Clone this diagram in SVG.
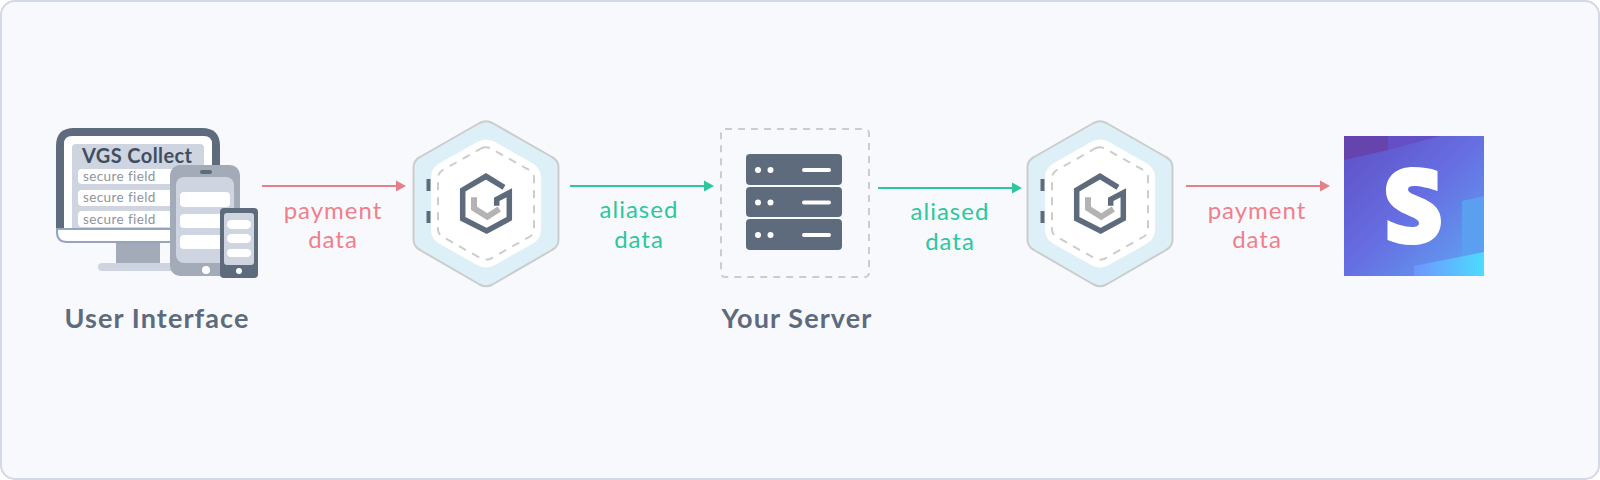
<svg xmlns="http://www.w3.org/2000/svg" width="1600" height="480" viewBox="0 0 1600 480">
<style>
text{font-family:"Lato","Liberation Sans",sans-serif}
.pay{fill:#f07f8c;font-size:24px;text-anchor:middle;letter-spacing:1px}
.ali{fill:#2cc79f;font-size:24px;text-anchor:middle;letter-spacing:1px}
.title{fill:#5d6b7c;font-size:27px;font-weight:700;text-anchor:middle;letter-spacing:1.1px}
.sf{fill:#8d949e;font-size:13.5px;letter-spacing:.4px}
.fw{fill:#fff}
.line-r{stroke:#e5808b;stroke-width:2;fill:none}
.line-g{stroke:#2cc79f;stroke-width:2;fill:none}
.slate{fill:#5d6b7c}
</style>
<defs>
<g id="vault">
<path d="M-6.500-80.500Q0-84 6.500-80.500L66-46.500Q72.500-43 72.500-36V36Q72.500 43 66 46.500L6.500 81Q0 84.500-6.500 81L-66 46.500Q-72.500 43-72.500 36V-36Q-72.500-43-66-46.500Z" fill="#ddeff7" stroke="#cbcdcd" stroke-width="2"/>
<path d="M-8-62Q0-66 8-62L47-40Q55-35 55-26V26Q55 35 47 40L8 62Q0 66-8 62L-47 40Q-55 35-55 26V-26Q-55-35-47-40Z" fill="#fff"/>
<path d="M-4-55.500Q0-57 4-55.500L44-33Q48-30 48-26V26Q48 30 44 33L4 55.500Q0 57-4 55.500L-44 33Q-48 30-48 26V-26Q-48-30-44-33Z" fill="none" stroke="#cbcdcd" stroke-width="2" stroke-dasharray="8 7"/>
<rect x="-59.500" y="-24.500" width="4" height="12" class="slate"/>
<rect x="-59.500" y="7.500" width="4" height="12" class="slate"/>
<path d="M-12-6.200V4.800L1.300 13.200 13.300 5.500" fill="none" stroke="#b3b3b3" stroke-width="6"/>
<path d="M18-16.200 0-27.200-23.300-13.500V15.200L.7 27.500 23.300 15.200V-10.800L10.700-4.200V2.200" fill="none" stroke="#5d6b7c" stroke-width="5.500"/>
</g>
<linearGradient id="st" x1="0" y1="0" x2="1" y2="1"><stop offset="0" stop-color="#5f4fc4"/><stop offset=".5" stop-color="#666fe2"/><stop offset="1" stop-color="#5fa8f4"/></linearGradient>
<linearGradient id="st2" x1="0" y1="0" x2="1" y2="0"><stop offset="0" stop-color="#6f94ff"/><stop offset="1" stop-color="#4cdcff"/></linearGradient>
</defs>
<rect x="1" y="1" width="1598" height="478" rx="14" fill="#f8f9fd" stroke="#d2d8e6" stroke-width="2"/>
<g id="connectors">
<path d="M262 186H397" class="line-r"/><path d="M406 186l-10-5.500v11z" fill="#e5808b"/>
<path d="M570 186H705" class="line-g"/><path d="M714 186l-10-5.500v11z" fill="#2cc79f"/>
<path d="M878 188H1013" class="line-g"/><path d="M1022 188l-10-5.500v11z" fill="#2cc79f"/>
<path d="M1186 186H1321" class="line-r"/><path d="M1330 186l-10-5.500v11z" fill="#e5808b"/>
</g>
<g id="label-1"><text class="pay" x="333" y="219">payment</text><text class="pay" x="333" y="248">data</text></g>
<g id="label-2"><text class="ali" x="639" y="218">aliased</text><text class="ali" x="639" y="248">data</text></g>
<g id="label-3"><text class="ali" x="950" y="220">aliased</text><text class="ali" x="950" y="250">data</text></g>
<g id="label-4"><text class="pay" x="1257" y="219">payment</text><text class="pay" x="1257" y="248">data</text></g>
<g id="user-interface">
<path d="M56 228V146Q56 128 74 128H202Q220 128 220 146V228Z" class="slate"/>
<path d="M64 228V144Q64 136 72 136H204Q212 136 212 144V228Z" fill="#fff"/>
<path d="M72 228V148Q72 144 76 144H200Q204 144 204 148V228Z" fill="#ced4e0"/>
<text x="82" y="163" fill="#3f4e60" font-weight="700" letter-spacing=".4" style="font-size:20px">VGS Collect</text>
<rect x="78" y="169" width="100" height="15" rx="4" class="fw"/>
<rect x="78" y="190" width="100" height="16" rx="4" class="fw"/>
<rect x="78" y="211" width="100" height="16" rx="4" class="fw"/>
<text class="sf" x="83" y="181">secure field</text><text class="sf" x="83" y="202">secure field</text><text class="sf" x="83" y="224">secure field</text>
<path d="M57 229H190V242H67Q57 242 57 232Z" fill="#fff" stroke="#93a5c0" stroke-width="2"/>
<rect x="116" y="243" width="44" height="21" fill="#a3abb8"/>
<rect x="98" y="263" width="90" height="8" rx="4" fill="#ced4e0"/>
<rect x="170" y="165" width="70" height="111" rx="10" fill="#a3abb8"/>
<rect x="176" y="177" width="58" height="86" rx="8" fill="#ced4e0"/>
<rect x="200" y="170" width="12" height="4" rx="2" class="slate"/>
<circle cx="206" cy="270" r="4" fill="#fff"/>
<rect x="180" y="192" width="50" height="15" rx="4" class="fw"/>
<rect x="180" y="214" width="50" height="14" rx="4" class="fw"/>
<rect x="180" y="235" width="50" height="14" rx="4" class="fw"/>
<rect x="220" y="208" width="38" height="70" rx="4" class="slate"/>
<rect x="224" y="213" width="30" height="52" rx="3" fill="#ced4e0"/>
<rect x="227" y="220" width="24" height="9" rx="4.500" class="fw"/>
<rect x="227" y="234" width="24" height="9" rx="4.500" class="fw"/>
<rect x="227" y="249" width="24" height="8" rx="4" class="fw"/>
<circle cx="239" cy="271" r="3" fill="#fff"/>
<text class="title" x="157" y="328">User Interface</text>
</g>
<g id="vault-1"><use href="#vault" x="486" y="203.500"/></g>
<g id="your-server">
<rect x="721" y="129" width="148" height="148" rx="4" fill="none" stroke="#cbcdcd" stroke-width="2" stroke-dasharray="7 6"/>
<rect x="746" y="154" width="96" height="31" rx="4" class="slate"/>
<rect x="746" y="187" width="96" height="30" rx="4" class="slate"/>
<rect x="746" y="219" width="96" height="31" rx="4" class="slate"/>
<g fill="#fff"><circle cx="758" cy="170" r="3"/><circle cx="770.500" cy="170" r="3"/><rect x="802" y="168" width="29" height="4" rx="2"/>
<circle cx="758" cy="202.500" r="3"/><circle cx="770.500" cy="202.500" r="3"/><rect x="802" y="200.500" width="29" height="4" rx="2"/>
<circle cx="758" cy="235" r="3"/><circle cx="770.500" cy="235" r="3"/><rect x="802" y="233" width="29" height="4" rx="2"/></g>
<text class="title" x="797" y="328">Your Server</text>
</g>
<g id="vault-2"><use href="#vault" x="1100" y="203.500"/></g>
<g id="stripe">
<rect x="1344" y="136" width="140" height="140" fill="url(#st)"/>
<path d="M1388 136H1440L1388 150Z" fill="#654fc4"/>
<path d="M1344 136H1388V150L1344 160Z" fill="#6544ae"/>
<path d="M1462 201L1484 196V252L1462 256Z" fill="#5a9ff0"/>
<path d="M1414 266L1484 252V276H1414Z" fill="url(#st2)"/>
<path d="M1437.500 171V191C1429 188 1420 186 1414 186C1410 186 1408 187 1408 189.500C1408 197 1441 197 1441 221C1441 237 1429 245 1412 245C1403 245 1395 243 1387.500 240V220C1395 224 1405 227 1412 227C1416 227 1419 226 1419 223C1419 215 1386 214 1386 191C1386 175 1398 167 1413 167C1422 167 1430 168 1437.500 171Z" fill="#fff"/>
</g>
</svg>
